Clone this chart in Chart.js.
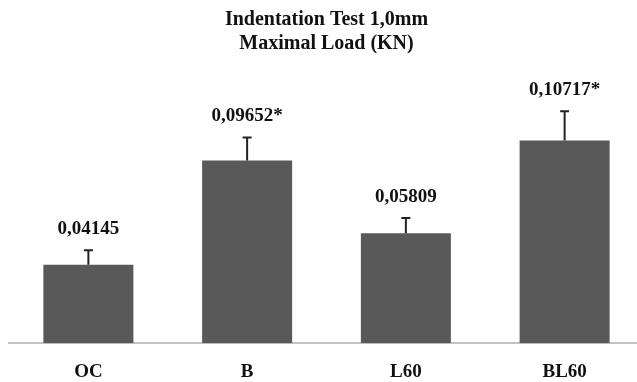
<!DOCTYPE html>
<html>
<head>
<meta charset="utf-8">
<script src="https://cdn.jsdelivr.net/npm/chart.js@4"></script>
<style>
  html, body { margin: 0; padding: 0; background: #fff; overflow: hidden; }
</style>
</head>
<body>
<canvas id="chart" width="644" height="382"></canvas>
<script>
const categories = ['OC', 'B', 'L60', 'BL60']
const loads = [0.04145, 0.09652, 0.05809, 0.10717]
const errors = [0.0077, 0.0122, 0.008, 0.0154]
const valueLabels = ['0,04145', '0,09652*', '0,05809', '0,10717*']

const SERIF = '"Liberation Serif", "Times New Roman", serif'

// upward error whiskers + value labels above them
const errorBars = {
  id: 'errorBars',
  afterDatasetsDraw(chart) {
    const { ctx, scales: { y } } = chart
    const meta = chart.getDatasetMeta(0)
    ctx.save()
    meta.data.forEach((bar, i) => {
      const top = y.getPixelForValue(loads[i] + errors[i])
      ctx.strokeStyle = '#222'
      ctx.lineWidth = 2
      ctx.beginPath()
      ctx.moveTo(bar.x, bar.y)
      ctx.lineTo(bar.x, top)
      ctx.moveTo(bar.x - 4.5, top)
      ctx.lineTo(bar.x + 4.5, top)
      ctx.stroke()
      ctx.fillStyle = '#111'
      ctx.font = 'bold 19px ' + SERIF
      ctx.textAlign = 'center'
      ctx.textBaseline = 'alphabetic'
      ctx.fillText(valueLabels[i], bar.x, top - 16)
    })
    ctx.restore()
  },
}

const config = {
  type: 'bar',
  data: {
    labels: categories,
    datasets: [
      {
        data: loads,
        backgroundColor: '#595959',
        borderWidth: 0,
        categoryPercentage: 1,
        barPercentage: 0.567,
      },
    ],
  },
  options: {
    responsive: false,
    animation: false,
    layout: { padding: { left: 9, right: 0, top: 0, bottom: -18 } },
    plugins: {
      legend: { display: false },
      tooltip: { enabled: false },
      title: {
        display: true,
        text: ['Indentation Test 1,0mm', 'Maximal Load (KN)'],
        color: '#111',
        font: { family: SERIF, size: 20, weight: 'bold', lineHeight: 1.2 },
        padding: { top: 8, bottom: 9 },
      },
    },
    scales: {
      x: {
        grid: { display: false, drawTicks: false },
        border: { color: '#c4c4c4', width: 2 },
        ticks: {
          color: '#111',
          padding: 17,
          font: { family: SERIF, size: 19, weight: 'bold' },
        },
      },
      y: {
        display: false,
        min: 0,
        max: 0.147,
      },
    },
  },
  plugins: [errorBars],
}

new Chart(document.getElementById('chart'), config)
</script>
</body>
</html>
